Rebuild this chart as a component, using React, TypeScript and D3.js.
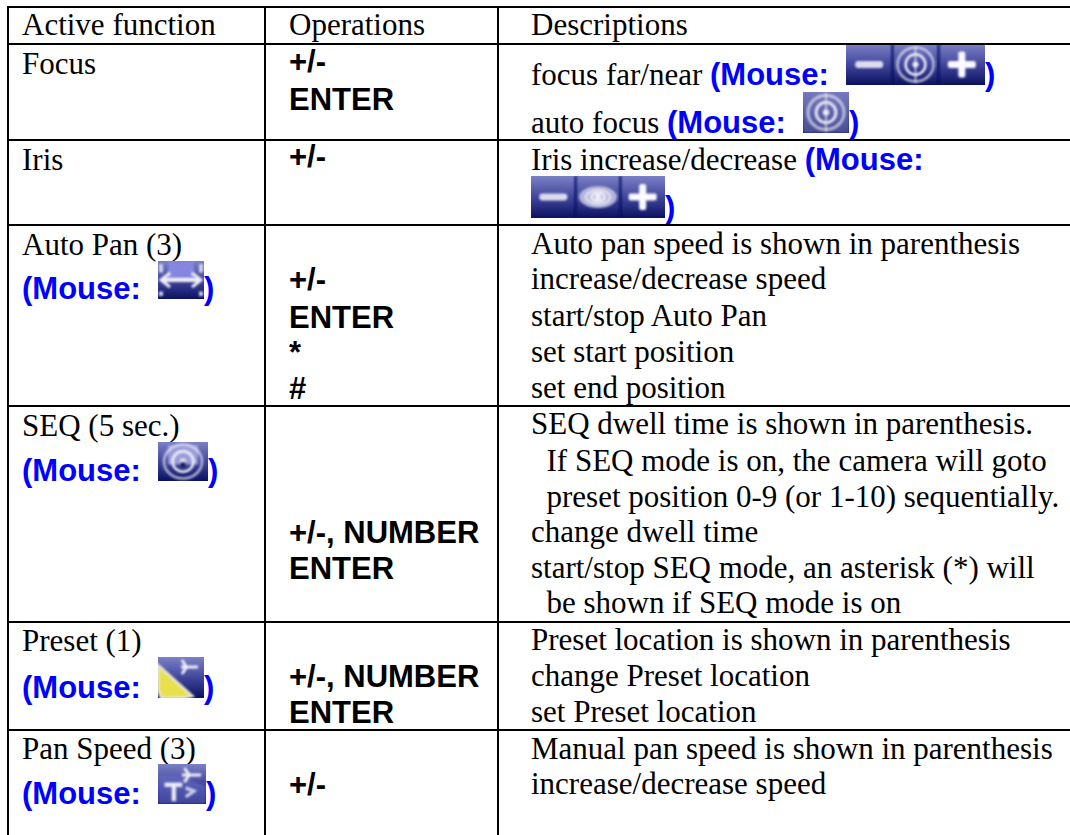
import React from 'react';
import * as d3 from 'd3';

const headers = ['Active function', 'Operations', 'Descriptions'];

// table grid, in page pixels
const columnEdges = [8, 265, 498];
const rowEdges = [7, 44, 140, 225, 406, 622, 730];
const columnText = [22, 289, 531];
const headerBaseline = 35;

type Piece = { text?: string; mouse?: boolean; icon?: string };
type Line = { y: number; pieces: Piece[] };

const mouseLabel = '(Mouse:  ';

const functionLines: Line[] = [
  { y: 74, pieces: [{ text: 'Focus' }] },
  { y: 170, pieces: [{ text: 'Iris' }] },
  { y: 255, pieces: [{ text: 'Auto Pan (3)' }] },
  { y: 299, pieces: [{ text: mouseLabel, mouse: true }, { icon: 'pan' }, { text: ')', mouse: true }] },
  { y: 436, pieces: [{ text: 'SEQ (5 sec.)' }] },
  { y: 481, pieces: [{ text: mouseLabel, mouse: true }, { icon: 'seq' }, { text: ')', mouse: true }] },
  { y: 651, pieces: [{ text: 'Preset (1)' }] },
  { y: 698, pieces: [{ text: mouseLabel, mouse: true }, { icon: 'preset' }, { text: ')', mouse: true }] },
  { y: 759, pieces: [{ text: 'Pan Speed (3)' }] },
  { y: 804, pieces: [{ text: mouseLabel, mouse: true }, { icon: 'speed' }, { text: ')', mouse: true }] },
];

const operationLines: { y: number; text: string }[] = [
  { y: 72, text: '+/-' },
  { y: 110, text: 'ENTER' },
  { y: 167, text: '+/-' },
  { y: 290, text: '+/-' },
  { y: 328, text: 'ENTER' },
  { y: 363, text: '*' },
  { y: 399, text: '#' },
  { y: 543, text: '+/-, NUMBER' },
  { y: 579, text: 'ENTER' },
  { y: 687, text: '+/-, NUMBER' },
  { y: 723, text: 'ENTER' },
  { y: 795, text: '+/-' },
];

const descriptionLines: Line[] = [
  { y: 85, pieces: [{ text: 'focus far/near ' }, { text: mouseLabel, mouse: true }, { icon: 'focusBar' }, { text: ')', mouse: true }] },
  { y: 133, pieces: [{ text: 'auto focus ' }, { text: mouseLabel, mouse: true }, { icon: 'focus' }, { text: ')', mouse: true }] },
  { y: 170, pieces: [{ text: 'Iris increase/decrease ' }, { text: '(Mouse:', mouse: true }] },
  { y: 218, pieces: [{ icon: 'irisBar' }, { text: ')', mouse: true }] },
  { y: 254, pieces: [{ text: 'Auto pan speed is shown in parenthesis' }] },
  { y: 289, pieces: [{ text: 'increase/decrease speed' }] },
  { y: 326, pieces: [{ text: 'start/stop Auto Pan' }] },
  { y: 362, pieces: [{ text: 'set start position' }] },
  { y: 398, pieces: [{ text: 'set end position' }] },
  { y: 434, pieces: [{ text: 'SEQ dwell time is shown in parenthesis.' }] },
  { y: 471, pieces: [{ text: '  If SEQ mode is on, the camera will goto' }] },
  { y: 507, pieces: [{ text: '  preset position 0-9 (or 1-10) sequentially.' }] },
  { y: 542, pieces: [{ text: 'change dwell time' }] },
  { y: 578, pieces: [{ text: 'start/stop SEQ mode, an asterisk (*) will' }] },
  { y: 613, pieces: [{ text: '  be shown if SEQ mode is on' }] },
  { y: 650, pieces: [{ text: 'Preset location is shown in parenthesis' }] },
  { y: 686, pieces: [{ text: 'change Preset location' }] },
  { y: 722, pieces: [{ text: 'set Preset location' }] },
  { y: 759, pieces: [{ text: 'Manual pan speed is shown in parenthesis' }] },
  { y: 794, pieces: [{ text: 'increase/decrease speed' }] },
];

const iconSizes: Record<string, [number, number]> = {
  focusBar: [139, 41],
  focus: [46, 41],
  irisBar: [134, 42],
  pan: [46, 38],
  seq: [50, 39],
  preset: [46, 41],
  speed: [48, 40],
};

const serif = '"Liberation Serif", serif';
const sans = '"Liberation Sans", Arial, sans-serif';
const fontSize = 31;

const measureCanvas = document.createElement('canvas').getContext('2d')!;
function measure(text: string, mouse?: boolean) {
  measureCanvas.font = mouse ? `bold ${fontSize}px "Liberation Sans"` : `${fontSize}px "Liberation Serif"`;
  return measureCanvas.measureText(text).width;
}

const xColumn = d3.scaleOrdinal<number, number>().domain([0, 1, 2]).range(columnText);
const light = '#eeeef8';

function Glyph({ kind, w, h }: { kind: string; w: number; h: number }) {
  const cy = h / 2;
  const rings = (cx: number, rx: number, ry: number) => (
    <g fill="none" stroke={light} strokeWidth={2.5}>
      <ellipse cx={cx} cy={cy} rx={rx} ry={ry} opacity={0.7} />
      <ellipse cx={cx} cy={cy} rx={rx * 0.55} ry={ry * 0.6} />
      <circle cx={cx} cy={cy} r={3} fill={light} stroke="none" />
    </g>
  );
  const minus = (cx: number) => <rect x={cx - 14} y={cy - 3.5} width={28} height={7} rx={3} fill="#dcdcee" />;
  const plus = (cx: number) => (
    <g fill="#fafaff">
      <rect x={cx - 14} y={cy - 3.5} width={28} height={7} rx={2} />
      <rect x={cx - 3.5} y={cy - 13} width={7} height={26} rx={2} />
    </g>
  );
  if (kind === 'focusBar' || kind === 'irisBar') {
    const third = w / 3;
    return (
      <g>
        {minus(third / 2)}
        {kind === 'focusBar' ? (
          <g>
            {rings(third * 1.5, 18, 17)}
            <path d={`M${third * 1.5},2V${h - 2}`} stroke={light} strokeWidth={2} opacity={0.7} />
          </g>
        ) : (
          <g>
            <ellipse cx={third * 1.5} cy={cy} rx={19} ry={11} fill="#b4b4dc" />
            {rings(third * 1.5, 12, 7)}
          </g>
        )}
        {plus(third * 2.5)}
        <path d={`M${third},0V${h}M${third * 2},0V${h}`} stroke="#0a1060" strokeWidth={2} />
      </g>
    );
  }
  if (kind === 'focus') {
    return (
      <g>
        <rect width={w} height={h} fill="#7075b5" opacity={0.6} />
        {rings(w / 2, 18, 17)}
        <path d={`M${w / 2},1V${h - 1}`} stroke={light} strokeWidth={2} opacity={0.6} />
      </g>
    );
  }
  if (kind === 'seq') {
    return (
      <g>
        <rect x={w * 0.2} y={3} width={w * 0.6} height={h * 0.5} fill="#9a9cdc" />
        {rings(w / 2, 19, 17)}
        <circle cx={w / 2} cy={cy + 3} r={3} fill="#1a2060" />
      </g>
    );
  }
  if (kind === 'pan') {
    return (
      <g>
        <rect x={10} y={0} width={w - 20} height={cy} fill="#8486e0" />
        <path d={`M3,${cy}H${w - 3}`} stroke={light} strokeWidth={4} />
        <path d={`M12,${cy - 7}L3,${cy}L12,${cy + 7}M${w - 12},${cy - 7}L${w - 3},${cy}L${w - 12},${cy + 7}`} stroke={light} strokeWidth={3} fill="none" />
        <path d={`M3,3V${h * 0.3}M${w - 3},3V${h * 0.3}M3,${h - 3}V${h * 0.8}M${w - 3},${h - 3}V${h * 0.8}`} stroke="#cfd2ee" strokeWidth={4} />
      </g>
    );
  }
  if (kind === 'preset') {
    return (
      <g>
        <path d={`M0,8L${w * 0.75},${h - 2}L${w * 0.55},${h}H3L0,${h * 0.8}Z`} fill="#e8e04e" stroke="#e8e8d8" strokeWidth={2.5} />
        <path d={`M${w * 0.5},10H${w - 6}M${w * 0.52},3L${w * 0.62},10L${w * 0.52},17`} stroke={light} strokeWidth={3} fill="none" />
      </g>
    );
  }
  return (
    <g>
      <path d={`M0,${h}H${w}V${h * 0.55}L${w * 0.4},${h * 0.3}L0,${h * 0.3}Z`} fill="#6a6ec8" opacity={0.55} />
      <path d={`M${w * 0.5},11H${w - 5}M${w * 0.55},4L${w * 0.65},11L${w * 0.55},18`} stroke={light} strokeWidth={3} fill="none" />
      <path d={`M${w * 0.33},${h * 0.5}V${h - 3}M${w * 0.14},${h * 0.52}H${w * 0.5}`} stroke={light} strokeWidth={4} fill="none" />
      <path d={`M${w * 0.58},${h * 0.6}L${w * 0.75},${h * 0.68}L${w * 0.58},${h * 0.82}`} stroke="#cfd2ee" strokeWidth={3} fill="none" />
    </g>
  );
}

function Icon({ kind, x, baseline }: { kind: string; x: number; baseline: number }) {
  const [w, h] = iconSizes[kind];
  const clipId = `clip-${kind}`;
  return (
    <g transform={`translate(${x},${baseline - h})`}>
      <clipPath id={clipId}><rect width={w} height={h} /></clipPath>
      <g clipPath={`url(#${clipId})`}>
        <rect width={w} height={h} fill="url(#iconFill)" />
        <g filter="url(#soften)">
          <Glyph kind={kind} w={w} h={h} />
        </g>
      </g>
    </g>
  );
}

function TextLine({ line, col }: { line: Line; col: number }) {
  let cursor = xColumn(col);
  return (
    <g>
      {line.pieces.map((p, i) => {
        if (p.icon) {
          const el = <Icon key={i} kind={p.icon} x={Math.round(cursor)} baseline={line.y} />;
          cursor += iconSizes[p.icon][0];
          return el;
        }
        const x = cursor;
        cursor += measure(p.text!, p.mouse);
        return (
          <text
            key={i}
            x={x}
            y={line.y}
            style={{ whiteSpace: 'pre' }}
            fontFamily={p.mouse ? sans : serif}
            fontSize={fontSize}
            fontWeight={p.mouse ? 'bold' : 'normal'}
            fill={p.mouse ? '#0000ff' : '#000'}
          >
            {p.text}
          </text>
        );
      })}
    </g>
  );
}

export default function App() {
  return (
    <svg width={1070} height={835} style={{ position: 'absolute', left: 0, top: 0, background: '#fff' }}>
      <defs>
        <linearGradient id="iconFill" x1="0" y1="0" x2="0" y2="1">
          <stop offset="0" stopColor="#7c80c4" />
          <stop offset="0.5" stopColor="#41469c" />
          <stop offset="1" stopColor="#0b1260" />
        </linearGradient>
        <filter id="soften" x="-10%" y="-10%" width="120%" height="120%">
          <feGaussianBlur stdDeviation="1" />
        </filter>
      </defs>
      {headers.map((h, i) => (
        <text key={h} x={xColumn(i)} y={headerBaseline} fontFamily={serif} fontSize={fontSize}>{h}</text>
      ))}
      {functionLines.map((l, i) => <TextLine key={i} line={l} col={0} />)}
      {operationLines.map((l, i) => (
        <text key={i} x={xColumn(1)} y={l.y} fontFamily={sans} fontSize={fontSize} fontWeight="bold">{l.text}</text>
      ))}
      {descriptionLines.map((l, i) => <TextLine key={i} line={l} col={2} />)}
      <g stroke="#000" strokeWidth={2}>
        {rowEdges.map(y => <line key={y} x1={7} x2={1070} y1={y} y2={y} />)}
        {columnEdges.map(x => <line key={x} x1={x} x2={x} y1={6} y2={835} />)}
      </g>
    </svg>
  );
}
